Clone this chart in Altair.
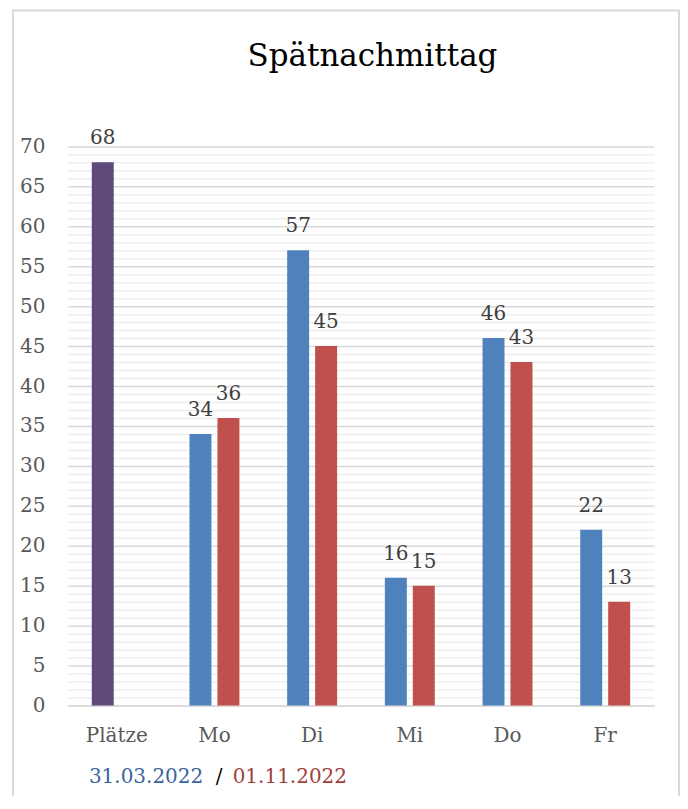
import altair as alt
import pandas as pd

# ---- data ----
categories = ["Plätze", "Mo", "Di", "Mi", "Do", "Fr"]
places = [68]
date1 = "31.03.2022"
date2 = "01.11.2022"
values_date1 = [34, 57, 16, 46, 22]
values_date2 = [36, 45, 15, 43, 13]
title_text = "Spätnachmittag"

rows = [{"cat": categories[0], "s": "A", "key": "Plätze", "v": places[0]}]
for c, a, b in zip(categories[1:], values_date1, values_date2):
    rows.append({"cat": c, "s": "A", "key": date1, "v": a})
    rows.append({"cat": c, "s": "B", "key": date2, "v": b})
df = pd.DataFrame(rows)

FONT = "DejaVu Serif"
W, H = 587, 560

x = alt.X(
    "cat:N", sort=categories,
    scale=alt.Scale(paddingInner=0, paddingOuter=0),
    axis=alt.Axis(title=None, labelAngle=0, labelFont=FONT, labelFontSize=20,
                  labelColor="#595959", labelPadding=20, ticks=False, tickSize=0,
                  domainColor="#D9D9D9", domainWidth=1.5, grid=False),
)
xo = alt.XOffset("s:N", scale=alt.Scale(domain=["A", "B"], paddingInner=0.2143, paddingOuter=0.854))
y = alt.Y(
    "v:Q", scale=alt.Scale(domain=[0, 70], nice=False),
    axis=alt.Axis(title=None, values=list(range(71)),
                  labelExpr="datum.value % 5 === 0 ? datum.label : ''",
                  labelOverlap=False,
                  gridColor=alt.condition("datum.value % 5 === 0", alt.value("#D9D9D9"), alt.value("#EEEEEE")),
                  gridWidth=1.5, domain=False, ticks=False, tickSize=0, labelPadding=23,
                  labelFont=FONT, labelFontSize=20, labelColor="#595959"),
)
color = alt.Color("key:N", scale=alt.Scale(domain=["Plätze", date1, date2],
                                            range=["#604A7B", "#4F81BD", "#C0504D"]), legend=None)

base = alt.Chart(df)
bars = base.mark_bar().encode(x=x, xOffset=xo, y=y, color=color)
labels = base.mark_text(dy=-18, baseline="alphabetic", font=FONT, fontSize=20, color="#404040").encode(
    x=x, xOffset=xo, y=y, text="v:Q")

one = lambda t: alt.Data(values=[{"t": t}])
border = alt.Chart(one("")).mark_rect(fillOpacity=0, stroke="#D9D9D9", strokeWidth=2).encode(
    x=alt.value(-55), x2=alt.value(612), y=alt.value(-136), y2=alt.value(720))
title = alt.Chart(one(title_text)).mark_text(font=FONT, fontSize=31, color="#000000",
                                             align="center", baseline="alphabetic").encode(
    x=alt.value(305), y=alt.value(-80), text="t:N")
foot1 = alt.Chart(one(date1)).mark_text(font=FONT, fontSize=20, color="#3A64A0",
                                        align="left", baseline="alphabetic").encode(
    x=alt.value(21), y=alt.value(638), text="t:N")
slash = alt.Chart(one("/")).mark_text(font=FONT, fontSize=20, color="#000000",
                                      align="left", baseline="alphabetic").encode(
    x=alt.value(148), y=alt.value(638), text="t:N")
foot2 = alt.Chart(one(date2)).mark_text(font=FONT, fontSize=20, color="#A0403C",
                                        align="left", baseline="alphabetic").encode(
    x=alt.value(165), y=alt.value(638), text="t:N")

chart = alt.layer(border, bars, labels, title, foot1, slash, foot2).properties(
    width=W, height=H,
    autosize=alt.AutoSizeParams(type="none"),
    padding={"left": 60, "top": 138, "right": 26, "bottom": 90},
).configure_view(stroke=None)

chart.save("out.html", embed_options={"renderer": "svg", "actions": False})
